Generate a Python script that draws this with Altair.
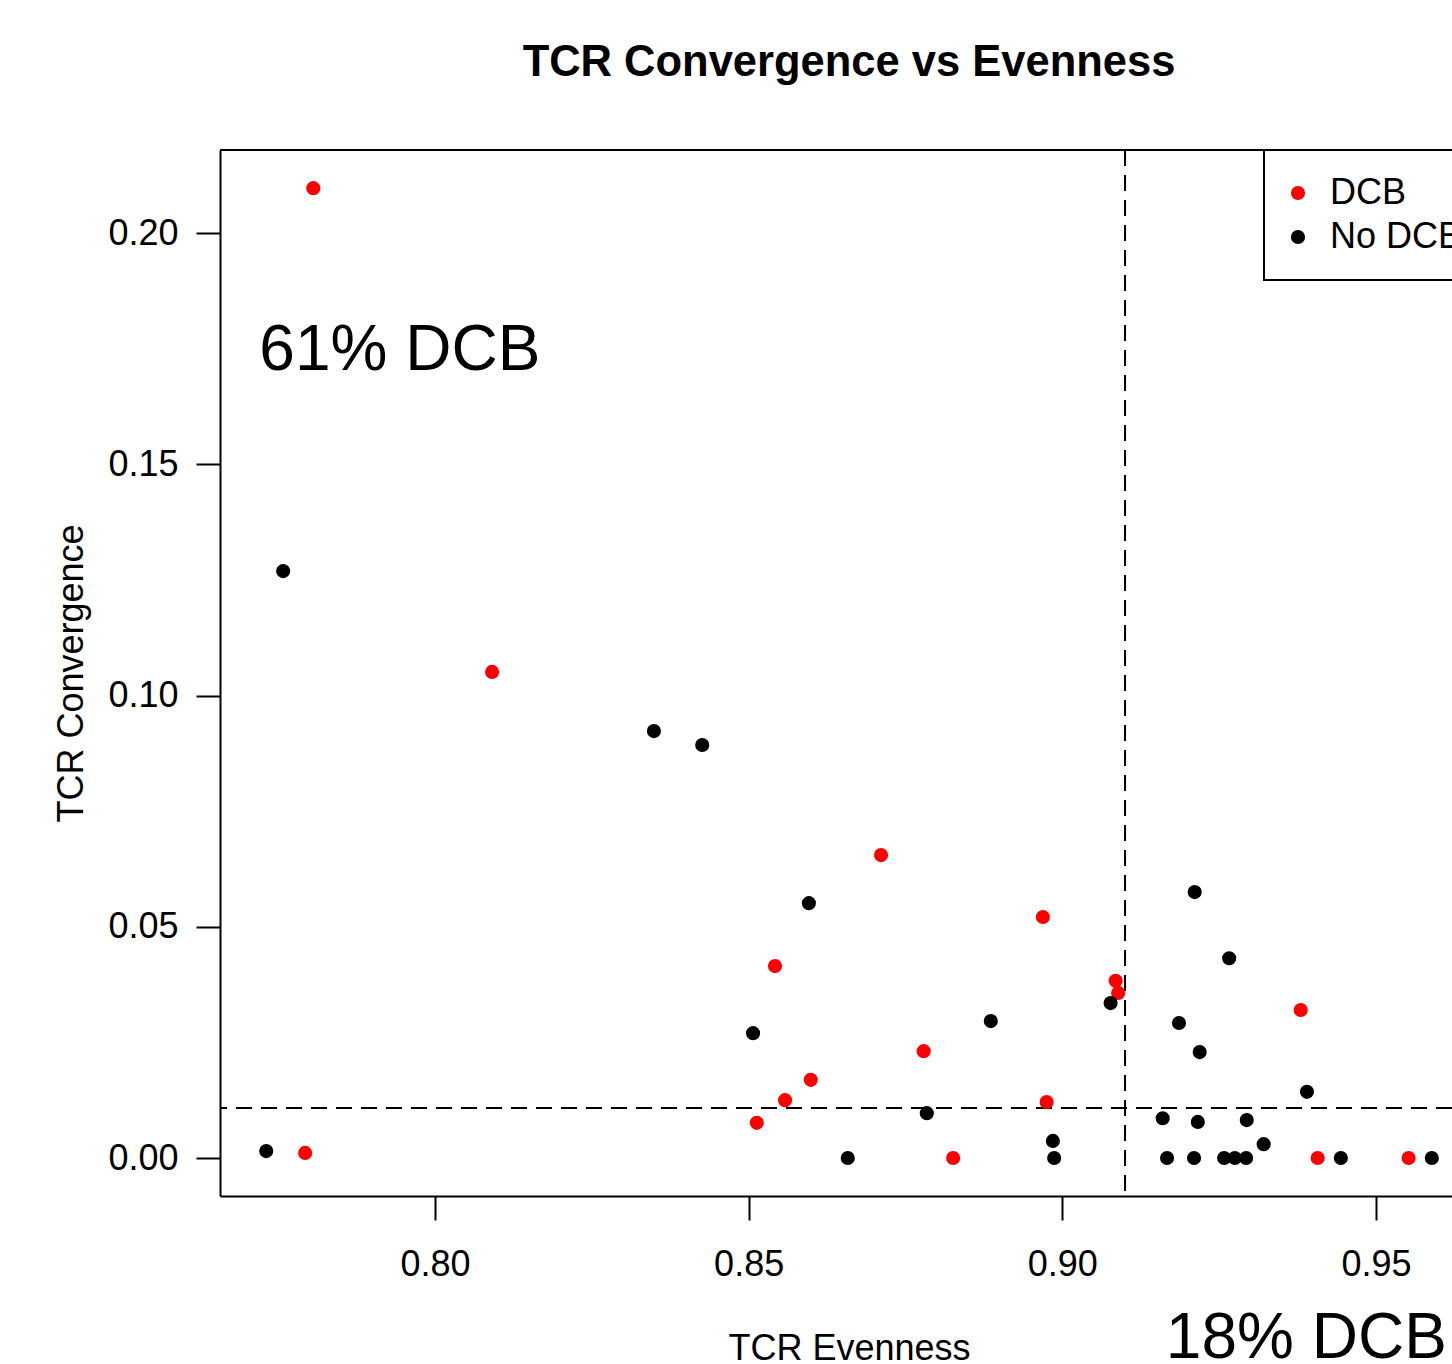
import altair as alt
import pandas as pd

# ---- data ----
dcb_x = [0.7806, 0.7793, 0.8091, 0.8711, 0.8542, 0.8779, 0.8599, 0.8558, 0.8513,
         0.8826, 0.8969, 0.8975, 0.9085, 0.9089, 0.9380, 0.9407, 0.9552]
dcb_y = [0.2097, 0.0011, 0.1051, 0.0655, 0.0415, 0.0231, 0.0169, 0.0125, 0.0076,
         0.0000, 0.0521, 0.0121, 0.0383, 0.0357, 0.0320, 0.0000, 0.0000]

nodcb_x = [0.7731, 0.7758, 0.8349, 0.8426, 0.8596, 0.8507, 0.8658, 0.8784, 0.8886,
           0.8985, 0.8987, 0.9077, 0.9211, 0.9266, 0.9186, 0.9219, 0.9160, 0.9216,
           0.9294, 0.9321, 0.9390, 0.9167, 0.9210, 0.9258, 0.9275, 0.9293, 0.9444,
           0.9589]
nodcb_y = [0.0015, 0.1269, 0.0923, 0.0893, 0.0551, 0.0270, 0.0000, 0.0097, 0.0296,
           0.0037, 0.0000, 0.0335, 0.0575, 0.0432, 0.0292, 0.0229, 0.0086, 0.0078,
           0.0082, 0.0030, 0.0143, 0.0000, 0.0000, 0.0000, 0.0000, 0.0000, 0.0000,
           0.0000]

groups = ["DCB", "No DCB"]
group_colors = ["#ff0000", "#000000"]

threshold_x = [0.9100]
threshold_y = [0.0108]

x_ticks = [0.80, 0.85, 0.90, 0.95]
y_ticks = [0.00, 0.05, 0.10, 0.15, 0.20]

ann_text = ["61% DCB", "18% DCB"]
ann_x = [0.7720, 0.9165]
ann_y = [0.1704, -0.0432]

title_text = "TCR Convergence vs Evenness"
x_title = "TCR Evenness"
y_title = "TCR Convergence"

# ---- tables ----
points = pd.DataFrame({
    "evenness": dcb_x + nodcb_x,
    "convergence": dcb_y + nodcb_y,
    "group": ["DCB"] * len(dcb_x) + ["No DCB"] * len(nodcb_x),
})
vline = pd.DataFrame({"evenness": threshold_x})
hline = pd.DataFrame({"convergence": threshold_y})
ann = pd.DataFrame({"label": ann_text, "evenness": ann_x, "convergence": ann_y})

FONT = "Liberation Sans"
W, H = 1232, 1046

xs = alt.Scale(domain=[0.76573, 0.96212], nice=False, zero=False)
ys = alt.Scale(domain=[-0.008216, 0.21795], nice=False, zero=False)

x_axis = alt.Axis(
    values=x_ticks, format=".2f", title=x_title, grid=False,
    tickSize=24, tickWidth=2, tickColor="black",
    domainColor="black", domainWidth=2,
    labelFont=FONT, labelFontSize=36, labelColor="black", labelPadding=27,
    labelFlush=False, labelOverlap=False,
    titleFont=FONT, titleFontSize=36, titleFontWeight="normal", titleColor="black",
    titleX=629, titleY=163, titleBaseline="alphabetic", titleAlign="center",
)
y_axis = alt.Axis(
    values=y_ticks, format=".2f", title=y_title, grid=False,
    tickSize=24, tickWidth=2, tickColor="black",
    domainColor="black", domainWidth=2,
    labelFont=FONT, labelFontSize=36, labelColor="black", labelPadding=18,
    labelFlush=False, labelOverlap=False,
    titleFont=FONT, titleFontSize=36, titleFontWeight="normal", titleColor="black",
    titleX=-138, titleY=523, titleAngle=270, titleBaseline="alphabetic",
    titleAlign="center",
)

base_x = alt.X("evenness:Q", scale=xs, axis=x_axis)
base_y = alt.Y("convergence:Q", scale=ys, axis=y_axis)

top_border = alt.Chart(vline).mark_rule(color="black", strokeWidth=2).encode(
    x=alt.value(0), x2=alt.value(W), y=alt.value(0)
)

vrule = alt.Chart(vline).mark_rule(
    color="black", strokeWidth=2, strokeDash=[16, 9]
).encode(x=alt.X("evenness:Q", scale=xs))

hrule = alt.Chart(hline).mark_rule(
    color="black", strokeWidth=2, strokeDash=[16, 9]
).encode(y=alt.Y("convergence:Q", scale=ys))

pts = alt.Chart(points).mark_circle(size=200, opacity=1).encode(
    x=base_x,
    y=base_y,
    color=alt.Color(
        "group:N",
        scale=alt.Scale(domain=groups, range=group_colors),
        legend=alt.Legend(
            title=None, orient="none", legendX=1044, legendY=0,
            direction="vertical", strokeColor="black", fillColor="white",
            padding=25, symbolType="circle", symbolSize=200,
            symbolStrokeWidth=0, symbolOffset=-9,
            labelFont=FONT, labelFontSize=36, labelColor="black",
            labelOffset=14, rowPadding=8, labelLimit=0,
        ),
    ),
)

texts = alt.Chart(ann).mark_text(
    align="left", baseline="alphabetic", font=FONT, fontSize=64, color="black"
).encode(
    x=alt.X("evenness:Q", scale=xs),
    y=alt.Y("convergence:Q", scale=ys),
    text="label:N",
)

chart = alt.layer(vrule, hrule, top_border, pts, texts).properties(
    width=W,
    height=H,
    autosize=alt.AutoSizeParams(type="none"),
    padding={"left": 220, "top": 150, "right": 0, "bottom": 168},
    title=alt.TitleParams(
        title_text, font=FONT, fontSize=43.5, fontWeight="bold", color="black",
        anchor="middle", frame="group", dx=13, baseline="alphabetic", offset=30,
    ),
    background="white",
).configure_view(stroke=None).configure_legend(strokeWidth=2)

chart.save("out.html", embed_options={"renderer": "svg", "actions": False})
